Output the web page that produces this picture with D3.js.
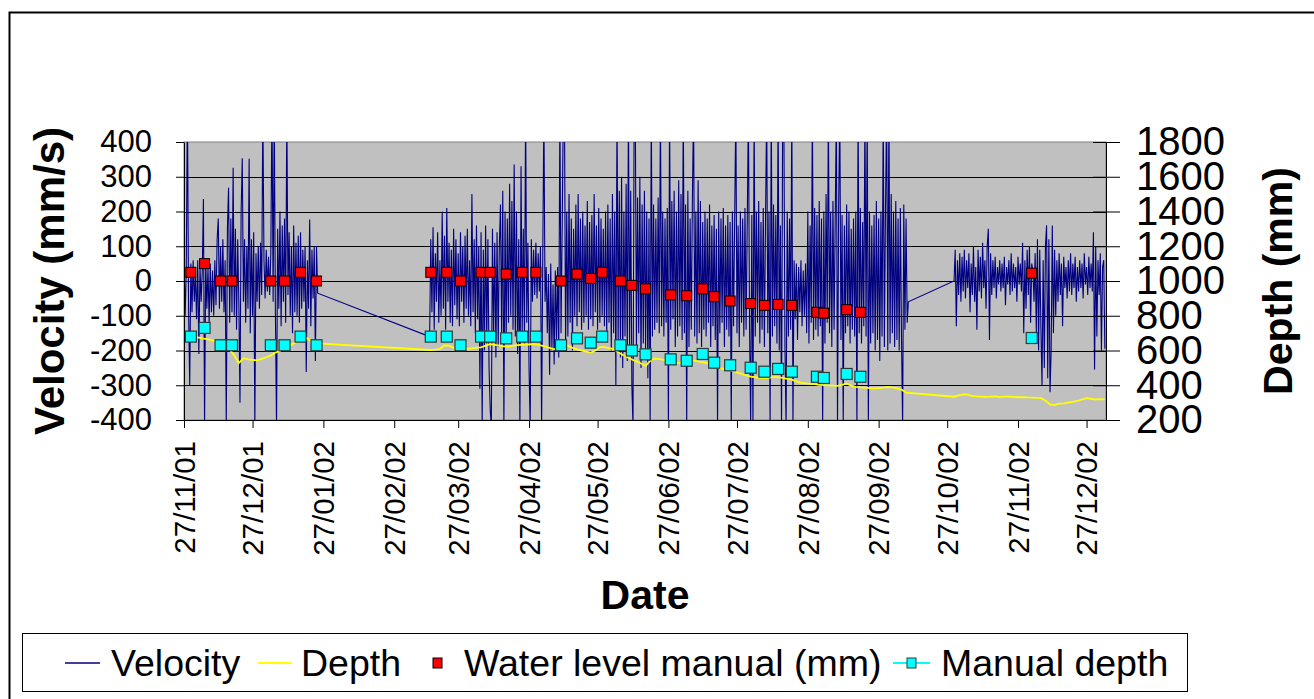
<!DOCTYPE html>
<html>
<head>
<meta charset="utf-8">
<script src="https://cdn.jsdelivr.net/npm/d3@7"></script>
<style>
    body { margin: 0; background: #fff; }
    svg { display: block; font-family: Arial, "Liberation Sans", sans-serif; }
</style>
</head>
<body>
<div id="svg_container"></div>
<script>
// ---------------- data ----------------

// logger velocity (mm/s), one reading every 12 hours, three logging periods
var velStepHours = 12;
var velSeg1Start = "2001-11-27 00:00";
var velSeg1 = [
    60, -100, 40, 520, -80, -300, 50, -90, 60, -60,
    20, -110, 60, -210, 40, -60, 30, 236, -420, 60,
    -80, 40, -120, 50, -90, 30, -100, 60, -70, 120,
    180, -80, 100, -60, 120, -90, 60, -420, 150, 268,
    -120, 180, -90, 326, -100, 150, -140, 120, -60, -350,
    200, 353, -60, 120, -120, 100, -80, 352, -150, 120,
    -100, 140, -420, 80, -60, 100, -80, 110, -40, 500,
    60, -50, 90, -30, 70, -40, 80, 520, -60, 500,
    -90, -420, 150, -80, 200, -130, 160, -60, 180, -120,
    500, -40, 140, -100, 100, -150, 160, -90, 110, -100,
    130, -120, 140, -80, 90, -60, 100, -262, 60, -80,
    177, -130, 90, -50, 100, -230, 100, -35
];
var velSeg2Start = "2002-03-14 12:00";
var velSeg2 = [
    -160, 120, -90, 155, -140, 80, -60, 140, -120, 60,
    -100, 200, -80, 130, -140, 210, -60, 110, -120, 90,
    -130, 150, -70, 120, -110, 80, -130, 140, -60, 100,
    -120, 130, -80, 150, -100, 60, -130, 250, -90, 120,
    -150, 160, -110, 100, -310, 140, -420, 90, -200, 160,
    -180, 120, -250, -370, -420, 150, -160, 110, -220, 140,
    -190, 100, 220, -150, 260, -420, 200, -170, 180, -120,
    280, -100, 230, -140, 335, -160, 200, -210, 120, -420,
    330, -150, 150, -180, 500, -120, 110, -250, -420, 120,
    -60, 90, -40, 110, -50, 80, -30, 100, -420, 60,
    500, -60, 40, -150, 20, -270, 50, -200, -10, -240,
    30, -180, 40, -220, 500, -150, 150, 500, 500, -200,
    200, -160, 250, -120, 180, -200, 150, -100, 220, -130,
    250, -90, 180, -140, 200, -120, 160, -100, 230, -140,
    170, -110, 190, -130, 250, -90, 160, -140, 210, -120,
    180, -100, 150, -130, 200, -160, 220, -120, 180, -200,
    250, -150, 200, -300, 500, -180, 260, -220, 300, -250,
    200, -160, 280, -230, 500, -200, 260, -300, -420, 500,
    500, -190, 240, -150, 300, -250, 220, -180, 260, -200,
    200, -280, 180, -420, 500, -160, 220, -140, 180, -120,
    240, -150, 500, -130, 200, -160, 180, -120, 210, -420,
    500, -140, 230, -110, 260, -190, 200, -160, 290, -130,
    250, -170, 500, -150, 220, -420, 260, -190, 180, -140,
    240, 500, -160, 200, -180, 290, -150, 230, -190, 170,
    -140, 200, -160, 180, -120, 220, -190, 160, -130, 190,
    -170, 150, -420, 200, -150, 180, -120, 210, -190, 160,
    -140, 190, -160, 170, -420, 200, -130, 180, 500, -150,
    160, -190, 200, -120, 180, -160, 210, -140, 170, 500,
    -130, -420, 190, -420, 500, -160, 200, -120, 230, -180,
    170, -140, 210, -190, 180, 500, -150, 200, -420, 500,
    -160, 220, -130, 190, -180, 500, -200, 160, -420, 500,
    500, -190, -420, 200, -160, 180, -140, 500, -420, 60,
    -110, 50, -170, 40, -90, 60, -130, 30, -100, 50,
    -150, 200, -180, 160, -120, 500, -170, 210, -140, 190,
    -160, 230, -130, 180, -420, 200, -180, 250, -120, 500,
    -150, 200, -190, 230, -140, 180, 500, -420, 210, 500,
    -170, 190, -420, 160, -150, 220, -130, 200, -180, 150,
    -140, 180, -160, 200, -420, 500, -150, 210, -180, 170,
    -130, 500, -160, 500, -420, 200, -180, 160, -150, 190,
    -200, 230, -170, 180, -230, 200, -160, 500, -190, 210,
    500, -200, 500, -180, 250, -150, 200, -190, 230, -170,
    180, -200, 210, -160, -420, 220, -140, 180, -120, -60
];
var velSeg3Start = "2002-10-30 00:00";
var velSeg3 = [
    0, 90, -130, 60, -40, 80, -60, 70, -30, 90,
    -50, 60, -20, 80, -90, 50, -40, 100, -60, 40,
    -140, 90, -30, 70, -50, 110, -20, 60, -80, 100,
    150, -170, 80, -40, 60, -20, 70, -50, 40, -10,
    60, -30, 50, -20, 70, -70, 40, -10, 60, -40,
    80, -30, 50, -20, 40, -60, 70, -10, 50, -30,
    110, -150, 60, -80, 90, -40, 100, -120, 50, 30,
    -60, 80, -150, 120, -200, 90, -130, -300, 60, -250,
    100, 160, -280, 120, -320, -200, 160, -150, 90, -100,
    60, -60, 80, -40, 50, -130, 70, -20, 40, -50,
    60, -30, 80, -40, 50, -20, 70, -60, 40, -30,
    60, -20, 50, -50, 80, -10, 40, -40, 70, -20,
    50, -30, 140, -255, 100, -160, 60, -40, 80, -200,
    40, 60, -195
];

// logger depth (mm), one reading every 48 hours, same three periods
var depthStepHours = 48;
var depthSeg1Start = "2001-11-27 00:00";
var depthSeg1 = [
    683, 680, 681, 676, 670, 665, 660, 652, 641, 628,
    606, 572, 528, 556, 549, 546, 543, 552, 561, 572,
    588, 598, 616, 626, 641, 652, 660, 671, 646, 641
];
var depthSeg2Start = "2002-03-15 00:00";
var depthSeg2 = [
    603, 605, 609, 630, 628, 615, 605, 604, 610, 612,
    616, 618, 628, 636, 632, 628, 624, 623, 628, 631,
    633, 634, 636, 636, 630, 624, 615, 607, 618, 630,
    628, 615, 606, 600, 594, 588, 600, 620, 620, 614,
    608, 590, 575, 562, 548, 537, 525, 512, 540, 554,
    550, 546, 542, 535, 528, 530, 538, 544, 540, 535,
    531, 520, 508, 500, 494, 490, 482, 474, 466, 457,
    449, 446, 442, 440, 444, 447, 447, 442, 437, 432,
    422, 414, 411, 408, 406, 403, 401, 399, 398, 396,
    402, 410, 398, 391, 388, 386, 384, 382, 384, 386,
    390, 388, 382, 375, 358
];
var depthSeg3Start = "2002-10-30 00:00";
var depthSeg3 = [
    334, 342, 348, 346, 338, 336, 335, 333, 334, 336,
    332, 334, 335, 333, 331, 332, 330, 329, 327, 326,
    312, 290, 286, 294, 296, 300, 304, 310, 318, 326,
    322, 318, 320, 319
];

// site visits
var manualDates = [
    "2001-11-30", "2001-12-06", "2001-12-13", "2001-12-18", "2002-01-04", "2002-01-10", "2002-01-17", "2002-01-24",
    "2002-03-15", "2002-03-22", "2002-03-28", "2002-04-06", "2002-04-10", "2002-04-17", "2002-04-24", "2002-04-30",
    "2002-05-11", "2002-05-18", "2002-05-24", "2002-05-29", "2002-06-06", "2002-06-11", "2002-06-17", "2002-06-28",
    "2002-07-05", "2002-07-12", "2002-07-17", "2002-07-24", "2002-08-02", "2002-08-08", "2002-08-14", "2002-08-20",
    "2002-08-31", "2002-09-03", "2002-09-13", "2002-09-19", "2002-12-03"
];
var waterLevelManual = [
    1050, 1100, 1000, 1000, 1000, 1000, 1050, 1000,
    1050, 1050, 1000, 1050, 1050, 1040, 1050, 1050,
    1000, 1040, 1015, 1050, 1000, 975, 955, 920,
    915, 955, 910, 885, 870, 860, 865, 860,
    820, 815, 835, 820, 1045
];
var manualDepth = [
    680, 730, 630, 630, 630, 630, 680, 630,
    680, 680, 630, 680, 680, 670, 680, 680,
    630, 670, 645, 680, 630, 600, 578, 549,
    541, 580, 530, 515, 501, 478, 494, 478,
    449, 442, 465, 449, 672
];

var velTicks = [-400, -300, -200, -100, 0, 100, 200, 300, 400];
var depthTicks = [200, 400, 600, 800, 1000, 1200, 1400, 1600, 1800];
var dateTicks = [
    "2001-11-27", "2001-12-27", "2002-01-27", "2002-02-27", "2002-03-27", "2002-04-27", "2002-05-27",
    "2002-06-27", "2002-07-27", "2002-08-27", "2002-09-27", "2002-10-27", "2002-11-27", "2002-12-27"
];
var dateDomain = ["2001-11-27 00:00", "2003-01-04 12:00"];

// ---------------- chart ----------------

var width = 1314, height = 699;
var plot = {left: 184, right: 1106, top: 142, bottom: 420};

var parseTime = d3.timeParse("%Y-%m-%d %H:%M");
var parseDay = d3.timeParse("%Y-%m-%d");
var plainNumber = function (d) { return String(d); };   // hyphen minus, no thousands comma

function readings(start, stepHours, values) {
    var t0 = parseTime(start).getTime();
    return values.map(function (v, i) {
        return {date: new Date(t0 + i * stepHours * 3600000), value: v};
    });
}

var velocity = readings(velSeg1Start, velStepHours, velSeg1)
        .concat(readings(velSeg2Start, velStepHours, velSeg2))
        .concat(readings(velSeg3Start, velStepHours, velSeg3));
var depth = readings(depthSeg1Start, depthStepHours, depthSeg1)
        .concat(readings(depthSeg2Start, depthStepHours, depthSeg2))
        .concat(readings(depthSeg3Start, depthStepHours, depthSeg3));
var visits = manualDates.map(function (d, i) {
    return {date: parseDay(d), level: waterLevelManual[i], depth: manualDepth[i]};
});

var x = d3.scaleTime()
        .domain(dateDomain.map(parseTime))
        .range([plot.left, plot.right]);
var yVel = d3.scaleLinear().domain([-400, 400]).range([plot.bottom, plot.top]);
var yDepth = d3.scaleLinear().domain([200, 1800]).range([plot.bottom, plot.top]);

var svg = d3.select("#svg_container")
        .append("svg")
        .attr("width", width)
        .attr("height", height);

// chart area border (runs off the right and bottom of the picture)
svg.append("rect")
        .attr("x", 9.5).attr("y", 12.5)
        .attr("width", 1400).attr("height", 800)
        .attr("fill", "#fff")
        .attr("stroke", "#000")
        .attr("stroke-width", 2);

svg.append("defs").append("clipPath")
        .attr("id", "plotClip")
        .append("rect")
        .attr("x", plot.left).attr("y", plot.top)
        .attr("width", plot.right - plot.left)
        .attr("height", plot.bottom - plot.top);

svg.append("rect")
        .attr("x", plot.left).attr("y", plot.top)
        .attr("width", plot.right - plot.left)
        .attr("height", plot.bottom - plot.top)
        .attr("fill", "#c0c0c0")
        .attr("stroke", "#808080");

svg.append("g")
        .selectAll("line")
        .data(velTicks.filter(function (t) { return t > -400 && t < 400; }))
        .join("line")
        .attr("x1", plot.left).attr("x2", plot.right)
        .attr("y1", function (d) { return Math.round(yVel(d)) + 0.5; })
        .attr("y2", function (d) { return Math.round(yVel(d)) + 0.5; })
        .attr("stroke", "#000");

var marks = svg.append("g").attr("clip-path", "url(#plotClip)");

marks.append("path")
        .datum(velocity)
        .attr("fill", "none")
        .attr("stroke", "#000080")
        .attr("stroke-width", 1.1)
        .attr("d", d3.line()
                .x(function (d) { return x(d.date); })
                .y(function (d) { return yVel(d.value); }));

marks.append("path")
        .datum(depth)
        .attr("fill", "none")
        .attr("stroke", "#ffff00")
        .attr("stroke-width", 1.8)
        .attr("d", d3.line()
                .x(function (d) { return x(d.date); })
                .y(function (d) { return yDepth(d.value); }));

// axes
function styleAxis(g, size) {
    g.select(".domain").attr("stroke", "#000");
    g.selectAll(".tick line").attr("stroke", "#000");
    g.selectAll(".tick text").attr("fill", "#000").attr("font-size", size);
    g.attr("font-family", null);
}

svg.append("g")
        .attr("transform", "translate(" + plot.left + ",0)")
        .call(d3.axisLeft(yVel).tickValues(velTicks).tickFormat(plainNumber)
                .tickSize(8).tickSizeOuter(0).tickPadding(24))
        .call(styleAxis, "31px");

var rightAxis = svg.append("g")
        .attr("transform", "translate(" + plot.right + ",0)")
        .call(d3.axisRight(yDepth).tickValues(depthTicks).tickFormat(plainNumber)
                .tickSize(14).tickSizeOuter(0).tickPadding(16))
        .call(styleAxis, "40px");
// right axis ticks cross the axis line
rightAxis.selectAll(".tick line").attr("x1", -13);

svg.append("g")
        .attr("transform", "translate(0," + plot.bottom + ")")
        .call(d3.axisBottom(x)
                .tickValues(dateTicks.map(parseDay))
                .tickFormat(d3.timeFormat("%d/%m/%y"))
                .tickSize(8).tickSizeOuter(0))
        .call(styleAxis, "29.5px")
        .selectAll(".tick text")
        .attr("transform", "rotate(-90)")
        .attr("text-anchor", "end")
        .attr("x", -21)
        .attr("y", 0)
        .attr("dy", "0.35em");

// manual readings
svg.append("g")
        .selectAll("rect")
        .data(visits)
        .join("rect")
        .attr("x", function (d) { return x(d.date) - 5; })
        .attr("y", function (d) { return yDepth(d.level) - 5; })
        .attr("width", 10).attr("height", 10)
        .attr("fill", "#ff0000")
        .attr("stroke", "#000")
        .attr("stroke-width", 1);

svg.append("g")
        .selectAll("rect")
        .data(visits)
        .join("rect")
        .attr("x", function (d) { return x(d.date) - 5.5; })
        .attr("y", function (d) { return yDepth(d.depth) - 5.5; })
        .attr("width", 11).attr("height", 11)
        .attr("fill", "#00ffff")
        .attr("stroke", "#2a3a3a")
        .attr("stroke-width", 1.2);

// titles
svg.append("text")
        .attr("transform", "translate(64," + ((plot.top + plot.bottom) / 2) + ")rotate(-90)")
        .attr("text-anchor", "middle")
        .attr("font-size", "42px").attr("font-weight", "bold")
        .text("Velocity (mm/s)");

svg.append("text")
        .attr("transform", "translate(1292," + ((plot.top + plot.bottom) / 2) + ")rotate(-90)")
        .attr("text-anchor", "middle")
        .attr("font-size", "41px").attr("font-weight", "bold")
        .text("Depth (mm)");

svg.append("text")
        .attr("x", (plot.left + plot.right) / 2)
        .attr("y", 609)
        .attr("text-anchor", "middle")
        .attr("font-size", "41px").attr("font-weight", "bold")
        .text("Date");

// legend
var legend = svg.append("g");
var legendY = 663;
legend.append("rect")
        .attr("x", 22.5).attr("y", 633.5)
        .attr("width", 1165).attr("height", 58)
        .attr("fill", "#fff").attr("stroke", "#000");

legend.append("line")
        .attr("x1", 65).attr("x2", 100).attr("y1", legendY).attr("y2", legendY)
        .attr("stroke", "#000080").attr("stroke-width", 1.5);
legend.append("line")
        .attr("x1", 258).attr("x2", 292).attr("y1", legendY).attr("y2", legendY)
        .attr("stroke", "#ffff00").attr("stroke-width", 1.8);
legend.append("rect")
        .attr("x", 433).attr("y", legendY - 5).attr("width", 9).attr("height", 10)
        .attr("fill", "#ff0000").attr("stroke", "#000");
legend.append("line")
        .attr("x1", 893).attr("x2", 930).attr("y1", legendY).attr("y2", legendY)
        .attr("stroke", "#00ffff").attr("stroke-width", 1.8);
legend.append("rect")
        .attr("x", 907).attr("y", legendY - 5).attr("width", 9).attr("height", 10)
        .attr("fill", "#00ffff").attr("stroke", "#2a3a3a");

legend.selectAll("text")
        .data([
            {x: 111, label: "Velocity"},
            {x: 301, label: "Depth"},
            {x: 464, label: "Water level manual (mm)"},
            {x: 941, label: "Manual depth"}
        ])
        .join("text")
        .attr("x", function (d) { return d.x; })
        .attr("y", legendY)
        .attr("dy", "0.35em")
        .attr("font-size", "37.5px")
        .text(function (d) { return d.label; });
</script>
</body>
</html>
